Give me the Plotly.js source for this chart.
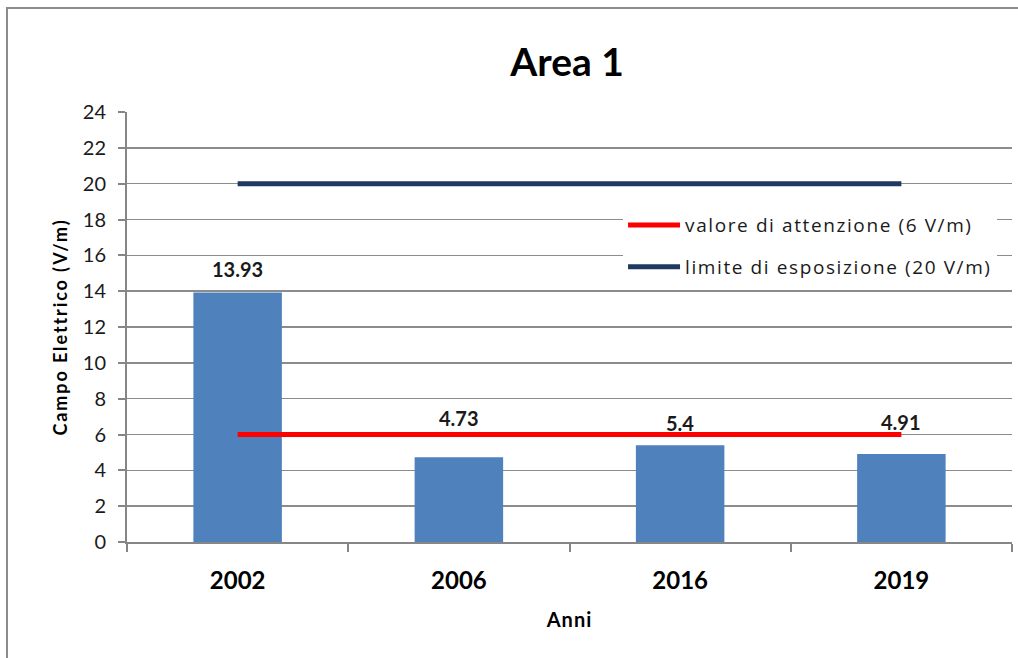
<!DOCTYPE html>
<html>
<head>
<meta charset="utf-8">
<script src="https://cdn.plot.ly/plotly-3.0.1.min.js"></script>
<style>
  html, body { margin: 0; padding: 0; background: #fff; overflow: hidden; }
  #frame { position: absolute; left: 6px; top: 7px; width: 1100px; height: 700px; border: 2px solid #8c8c8c; box-sizing: border-box; pointer-events: none; z-index: 5; }
  #chart { width: 1018px; height: 658px; }
  .legendtext { letter-spacing: 1.6px; }
  .g-ytitle text { letter-spacing: 1.9px; }
  .g-xtitle text { letter-spacing: 1px; }
</style>
</head>
<body>
<div id="frame"></div>
<div id="chart"></div>
<script>
// ---- data ----
const years = ['2002', '2006', '2016', '2019'];
const fieldValues = [13.93, 4.73, 5.4, 4.91];
const valueLabels = ['13.93', '4.73', '5.4', '4.91'];
const attentionLevel = [6, 6, 6, 6];
const exposureLimit = [20, 20, 20, 20];
const yTicks = [0, 2, 4, 6, 8, 10, 12, 14, 16, 18, 20, 22, 24];

// ---- style ----
const FONT = 'Lato, "Liberation Sans", sans-serif';
const LEGEND_FONT = '"Open Sans", Lato, sans-serif';
const labelShift = [23, 39, 22, 32];

const traces = [
  {
    type: 'bar', x: years, y: fieldValues, width: 0.4,
    marker: { color: '#4f81bd' }, showlegend: false, hoverinfo: 'x+y'
  },
  {
    type: 'scatter', mode: 'lines', x: years, y: attentionLevel,
    name: 'valore di attenzione (6 V/m)', legendgroup: 'a',
    line: { color: '#ff0000', width: 5 }
  },
  {
    type: 'scatter', mode: 'lines', x: years, y: exposureLimit,
    name: 'limite di esposizione (20 V/m)', legendgroup: 'b',
    line: { color: '#1f3a60', width: 5 }
  }
];

// category axis: annotation x given as category index
const annotations = years.map((yr, i) => ({
  x: i, y: fieldValues[i], xref: 'x', yref: 'y',
  text: '<b>' + valueLabels[i] + '</b>', showarrow: false, yanchor: 'middle', yshift: labelShift[i],
  font: { family: FONT, size: 20, color: '#1a1a1a' }
}));

const layout = {
  width: 1018, height: 658,
  margin: { l: 127, r: 6, t: 112, b: 116 },
  paper_bgcolor: '#ffffff', plot_bgcolor: '#ffffff',
  font: { family: FONT, color: '#1a1a1a' },
  title: {
    text: '<b>Area 1</b>', x: 0.557, xanchor: 'center', y: 0.905, yanchor: 'middle',
    font: { family: FONT, size: 39, color: '#000' }
  },
  xaxis: {
    type: 'category', tickson: 'boundaries', ticks: 'outside', ticklen: 8, tickwidth: 2, tickcolor: '#868686',
    showline: true, linecolor: '#868686', linewidth: 2, showgrid: false,
    tickfont: { family: FONT, size: 24, color: '#000', weight: 'bold' },
    ticklabelstandoff: 16,
    title: { text: '<b>Anni</b>', font: { family: FONT, size: 20, color: '#000' }, standoff: 20 },
    range: [-0.5, 3.5]
  },
  yaxis: {
    range: [0, 24], tickvals: yTicks, ticktext: yTicks.map(String),
    ticks: 'outside', ticklen: 7, tickwidth: 2, tickcolor: '#868686',
    showline: true, linecolor: '#868686', linewidth: 2,
    showgrid: true, gridcolor: '#8c8c8c', gridwidth: 1.6, zeroline: false,
    tickfont: { family: FONT, size: 20, color: '#1a1a1a' },
    ticklabelstandoff: 8,
    title: { text: '<b>Campo Elettrico (V/m)</b>', font: { family: FONT, size: 18, color: '#000' }, standoff: 10 }
  },
  legend: {
    x: 0.5605, y: 0.781, xanchor: 'left', yanchor: 'top',
    bgcolor: '#ffffff', borderwidth: 0,
    font: { family: LEGEND_FONT, size: 19, color: '#1a1a1a' },
    traceorder: 'grouped', tracegroupgap: 14, itemwidth: 52
  },
  annotations: annotations,
  bargap: 0.6
};

Plotly.newPlot('chart', traces, layout, { displayModeBar: false, staticPlot: true });
</script>
</body>
</html>
